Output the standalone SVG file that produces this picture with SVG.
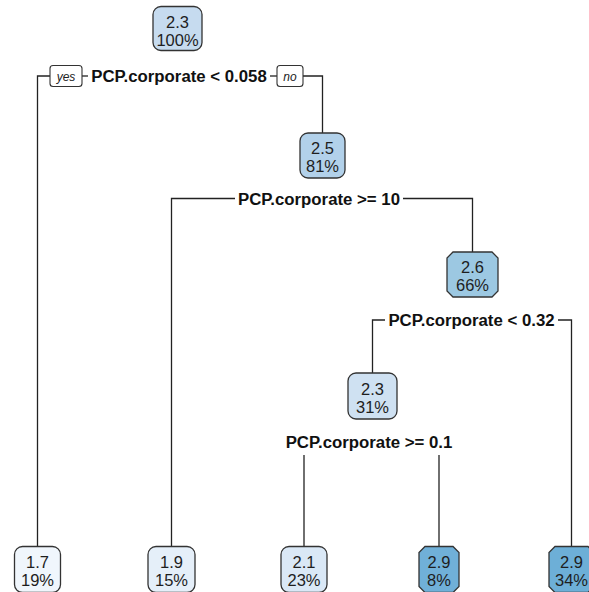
<svg xmlns="http://www.w3.org/2000/svg" width="589" height="592" viewBox="0 0 589 592">
<style>
.bx{stroke:#333;stroke-width:1.3}
.nt{font-family:"Liberation Sans",Arial,sans-serif;font-size:16.5px;fill:#1e1e1e;text-anchor:middle}
.sp{font-family:"Liberation Sans",Arial,sans-serif;font-size:16.8px;font-weight:bold;fill:#111;text-anchor:middle}
.yn{font-family:"Liberation Sans",Arial,sans-serif;font-size:12px;font-style:italic;fill:#222;text-anchor:middle}
.ynb{fill:#fff;stroke:#333;stroke-width:1.1}
.ln{fill:none;stroke:#222;stroke-width:1.3}
</style>
<rect width="589" height="592" fill="#fff"/>
<g id="connectors">
<path class="ln" d="M37.5,546.5 V76 H50"/>
<path class="ln" d="M82,76 H88"/>
<path class="ln" d="M270,76 H277"/>
<path class="ln" d="M303,76 H322.5 V133"/>
<path class="ln" d="M171.5,546.5 V198.5 H235"/>
<path class="ln" d="M403,198.5 H472.5 V252"/>
<path class="ln" d="M372.5,373 V320 H385"/>
<path class="ln" d="M558,320 H571.5 V546.5"/>
<path class="ln" d="M304,455 V546.5"/>
<path class="ln" d="M439,455 V546.5"/>
</g>
<g id="split1">
<rect class="ynb" x="50" y="65.5" width="32" height="21" rx="3"/>
<text class="yn" x="66" y="80.5">yes</text>
<text class="sp" x="179" y="82">PCP.corporate &lt; 0.058</text>
<rect class="ynb" x="277" y="65.5" width="26" height="21" rx="3"/>
<text class="yn" x="290" y="80.5">no</text>
</g>
<g id="split2"><text class="sp" x="319" y="204.5">PCP.corporate &gt;= 10</text></g>
<g id="split3"><text class="sp" x="471.5" y="326">PCP.corporate &lt; 0.32</text></g>
<g id="split4"><text class="sp" x="369" y="448">PCP.corporate &gt;= 0.1</text></g>
<g id="n1"><rect class="bx" x="153" y="6.5" width="49" height="44" rx="8" fill="#c6dbef"/><text class="nt" x="177.5" y="27.5">2.3</text><text class="nt" x="177.5" y="45.5">100%</text></g>
<g id="n3"><rect class="bx" x="300" y="133" width="45" height="45" rx="8" fill="#b2d1ea"/><text class="nt" x="322.5" y="154">2.5</text><text class="nt" x="322.5" y="172">81%</text></g>
<g id="n7"><polygon class="bx" points="453,252 492,252 498,258 498,291 492,297 453,297 447,291 447,258" fill="#9cc8e2"/><text class="nt" x="472.5" y="273">2.6</text><text class="nt" x="472.5" y="291">66%</text></g>
<g id="n14"><rect class="bx" x="348" y="373" width="49" height="46" rx="8" fill="#cfe1f2"/><text class="nt" x="372.5" y="394.5">2.3</text><text class="nt" x="372.5" y="412.5">31%</text></g>
<g id="n2"><rect class="bx" x="14.5" y="546.5" width="46" height="46" rx="8" fill="#f0f6fc"/><text class="nt" x="37.5" y="567.5">1.7</text><text class="nt" x="37.5" y="585.5">19%</text></g>
<g id="n6"><rect class="bx" x="148" y="546.5" width="47" height="46" rx="8" fill="#e5eff9"/><text class="nt" x="171.5" y="567.5">1.9</text><text class="nt" x="171.5" y="585.5">15%</text></g>
<g id="n28"><rect class="bx" x="281" y="546.5" width="46" height="46" rx="8" fill="#dae8f6"/><text class="nt" x="304" y="567.5">2.1</text><text class="nt" x="304" y="585.5">23%</text></g>
<g id="n29"><polygon class="bx" points="425,546.5 453,546.5 459,552.5 459,586.5 453,592.5 425,592.5 419,586.5 419,552.5" fill="#70b0d8"/><text class="nt" x="439" y="567.5">2.9</text><text class="nt" x="439" y="585.5">8%</text></g>
<g id="n15"><polygon class="bx" points="555,546.5 588,546.5 594,552.5 594,586.5 588,592.5 555,592.5 549,586.5 549,552.5" fill="#6dafd7"/><text class="nt" x="571.5" y="567.5">2.9</text><text class="nt" x="571.5" y="585.5">34%</text></g>
</svg>
